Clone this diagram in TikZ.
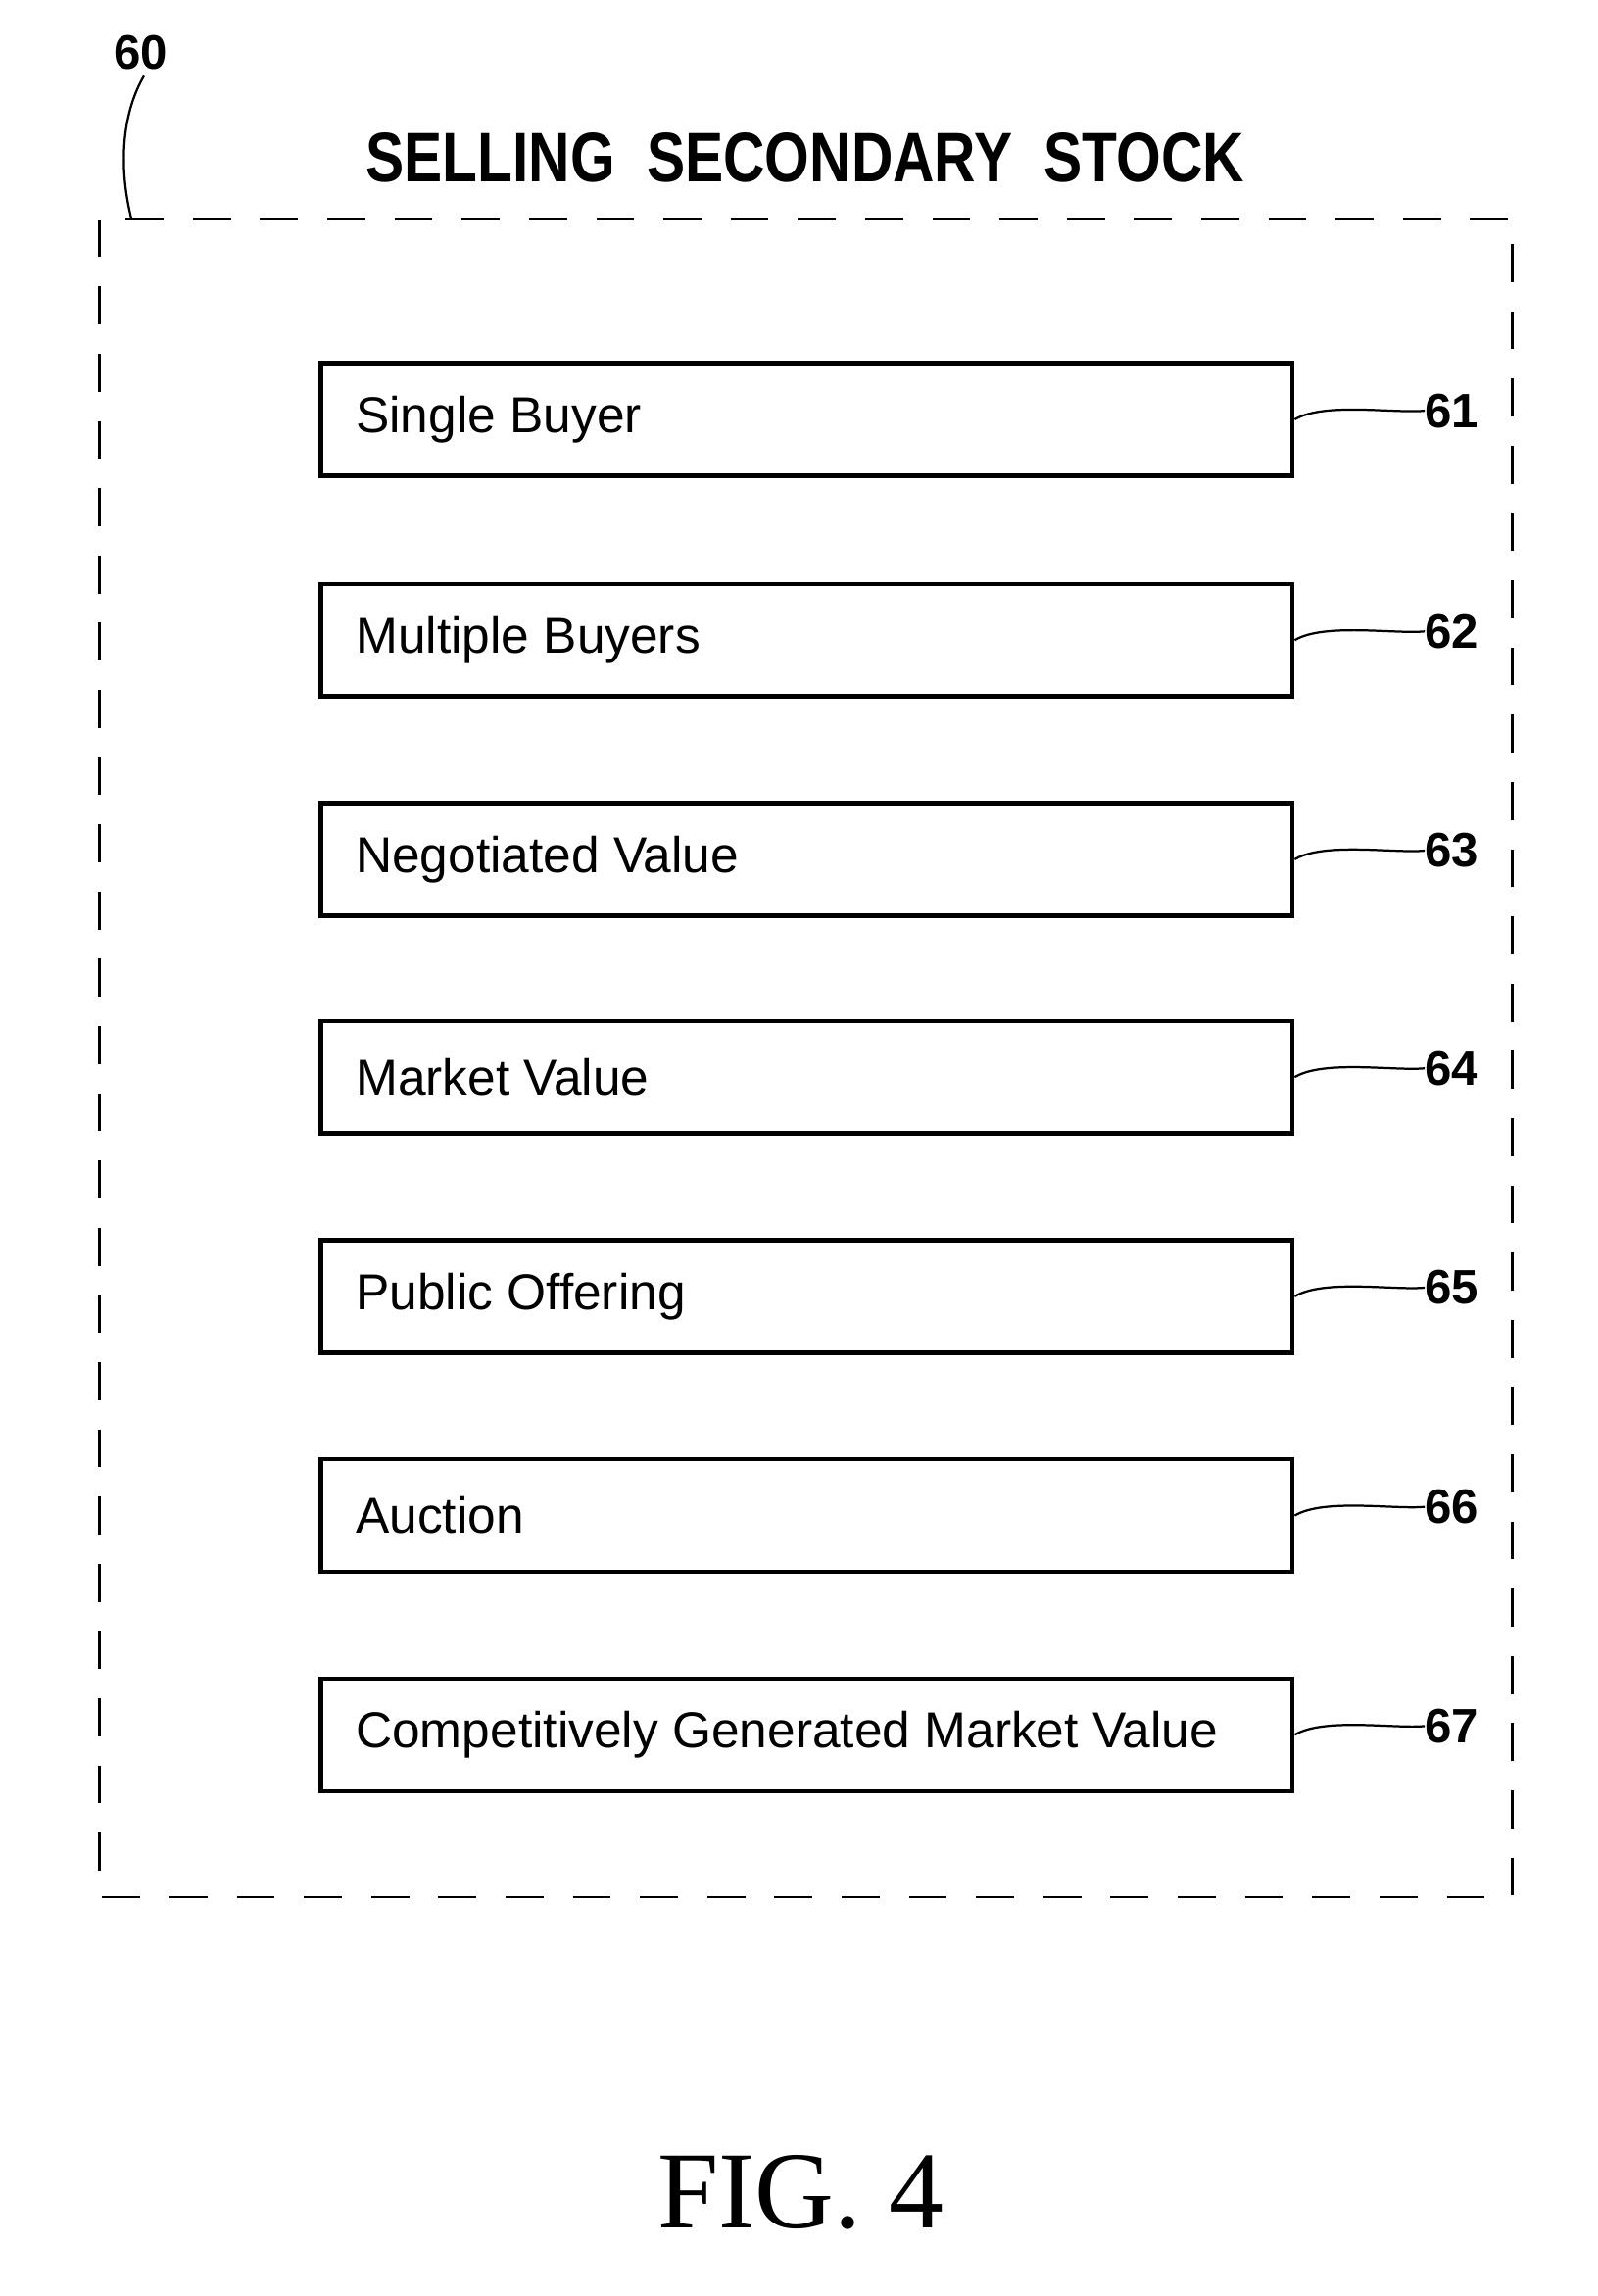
\documentclass[tikz,border=0pt]{standalone}
\usepackage{fontspec}
\setmainfont{Liberation Serif}
\setsansfont{Liberation Sans}
\begin{document}
\begin{tikzpicture}[x=1pt,y=-1pt,
  optbox/.style={draw,line width=3pt,minimum width=665pt,minimum height=77pt,anchor=north west,inner sep=0pt},
  boxtext/.style={font=\sffamily\fontsize{34.5}{40}\selectfont,anchor=west},
  reflabel/.style={font=\sffamily\bfseries\fontsize{33}{36}\selectfont,anchor=west,inner sep=0pt},
  leader/.style={line width=1.5pt}]
\useasboundingbox (0,0) rectangle (1093,1571);
\fill[white] (0,0) rectangle (1093,1571);
\draw[line width=1.8pt,dash pattern=on 26pt off 20pt] (68,150) rectangle (1035,1298);
\node[font=\sffamily\bfseries\fontsize{48}{52}\selectfont,xscale=0.82] (title) at (551,108) {SELLING\ \ SECONDARY\ \ STOCK};
\node[reflabel] (n60) at (78,36) {60};
\coordinate (c60) at (90,150);
\draw[leader] (n60.south) ++(2,4) .. controls (85,75) and (80,110) .. (c60);
\foreach \i/\y/\t in {61/247/Single Buyer,62/398/Multiple Buyers,63/548/Negotiated Value,64/697/Market Value,65/847/Public Offering,66/997/Auction,67/1147/Competitively Generated Market Value}{
  \node[optbox] (b\i) at (218,\y) {};
  \node[boxtext] (t\i) at ([xshift=22pt]b\i.west) {\t};
  \node[reflabel] (l\i) at (975,\y+34) {\i};
  \draw[leader] (b\i.east) .. controls +(20,-12) and +(-20,2) .. (l\i.west);
}
\node[font=\fontsize{75}{80}\selectfont] (fig) at (548,1500) {FIG. 4};
\end{tikzpicture}
\end{document}
